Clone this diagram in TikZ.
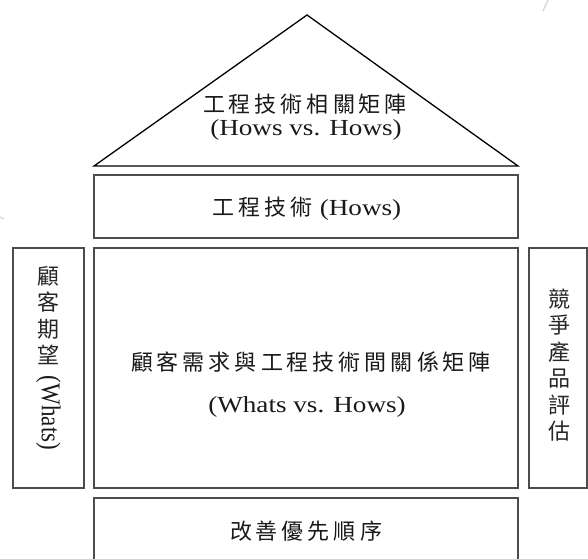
\documentclass[tikz,border=0pt]{standalone}
\usepackage{fontspec}
\usepackage{graphicx}
\setmainfont{Liberation Serif}
\newfontfamily\cjk{Noto Sans CJK TC}
\def\lsB#1{#1\lsA}
\def\lsA#1{\ifx#1\relax\else\hspace{4pt}#1\expandafter\lsA\fi}
\newcommand\lat[1]{\scalebox{1.18}[1]{\fontsize{23}{23}\selectfont #1}}
\newcommand\han[1]{{\fontsize{22}{22}\cjk\selectfont\lsB#1\relax}}
\tikzset{
  box/.style={draw=black!70, line width=1.3pt},
  roof/.style={draw=black, line width=1.3pt, line join=miter},
  lbl/.style={inner sep=0pt, text=black!90},
  vlbl/.style={inner sep=0pt, text=black!85, align=center, font=\cjk\fontsize{22}{26.5}\selectfont},
  speck/.style={draw=black!15, line width=1.5pt}
}
\begin{document}
\begin{tikzpicture}[x=1pt,y=-1pt]
\useasboundingbox (0,0) rectangle (588,558);
\clip (0,0) rectangle (588,558);
% roof
\coordinate (apex) at (307,15);
\coordinate (bl) at (94,166);
\coordinate (br) at (518,166);
\draw[roof] (bl) -- (apex) -- (br) -- cycle;
\node[lbl] (roofA) at (305,104) {\han{工程技術相關矩陣}};
\node[lbl] (roofB) at (306,130) {\lat{(Hows vs. Hows)}};
% hows
\draw[box] (94,175) rectangle (518,238);
\node[lbl] (hows) at (307,209) {\han{工程技術}\hspace{7pt}\lat{(Hows)}};
% whats
\draw[box] (13,248) rectangle (84,488);
\node[vlbl] (whatsA) at (48.5,315.5) {顧\\客\\期\\望};
\node[lbl, rotate=-90] (whatsB) at (48.5,413) {\scalebox{1}[1.18]{\fontsize{23}{23}\selectfont (Whats)}};
% main matrix
\draw[box] (94,248) rectangle (518,488);
\node[lbl] (mainA) at (311,362) {\han{顧客需求與工程技術間關係矩陣}};
\node[lbl] (mainB) at (307,407) {\lat{(Whats vs. Hows)}};
% competitive
\draw[box] (529,248) rectangle (587,488);
\node[vlbl] (comp) at (559,365) {競\\爭\\產\\品\\評\\估};
% priority
\draw[box] (94,498) rectangle (518,575);
\node[lbl] (prio) at (306,531) {\han{改善優先順序}};
% faint specks
\draw[speck] (548,0) -- (543,11);
\draw[speck] (0,217) -- (4,219);
\end{tikzpicture}
\end{document}
